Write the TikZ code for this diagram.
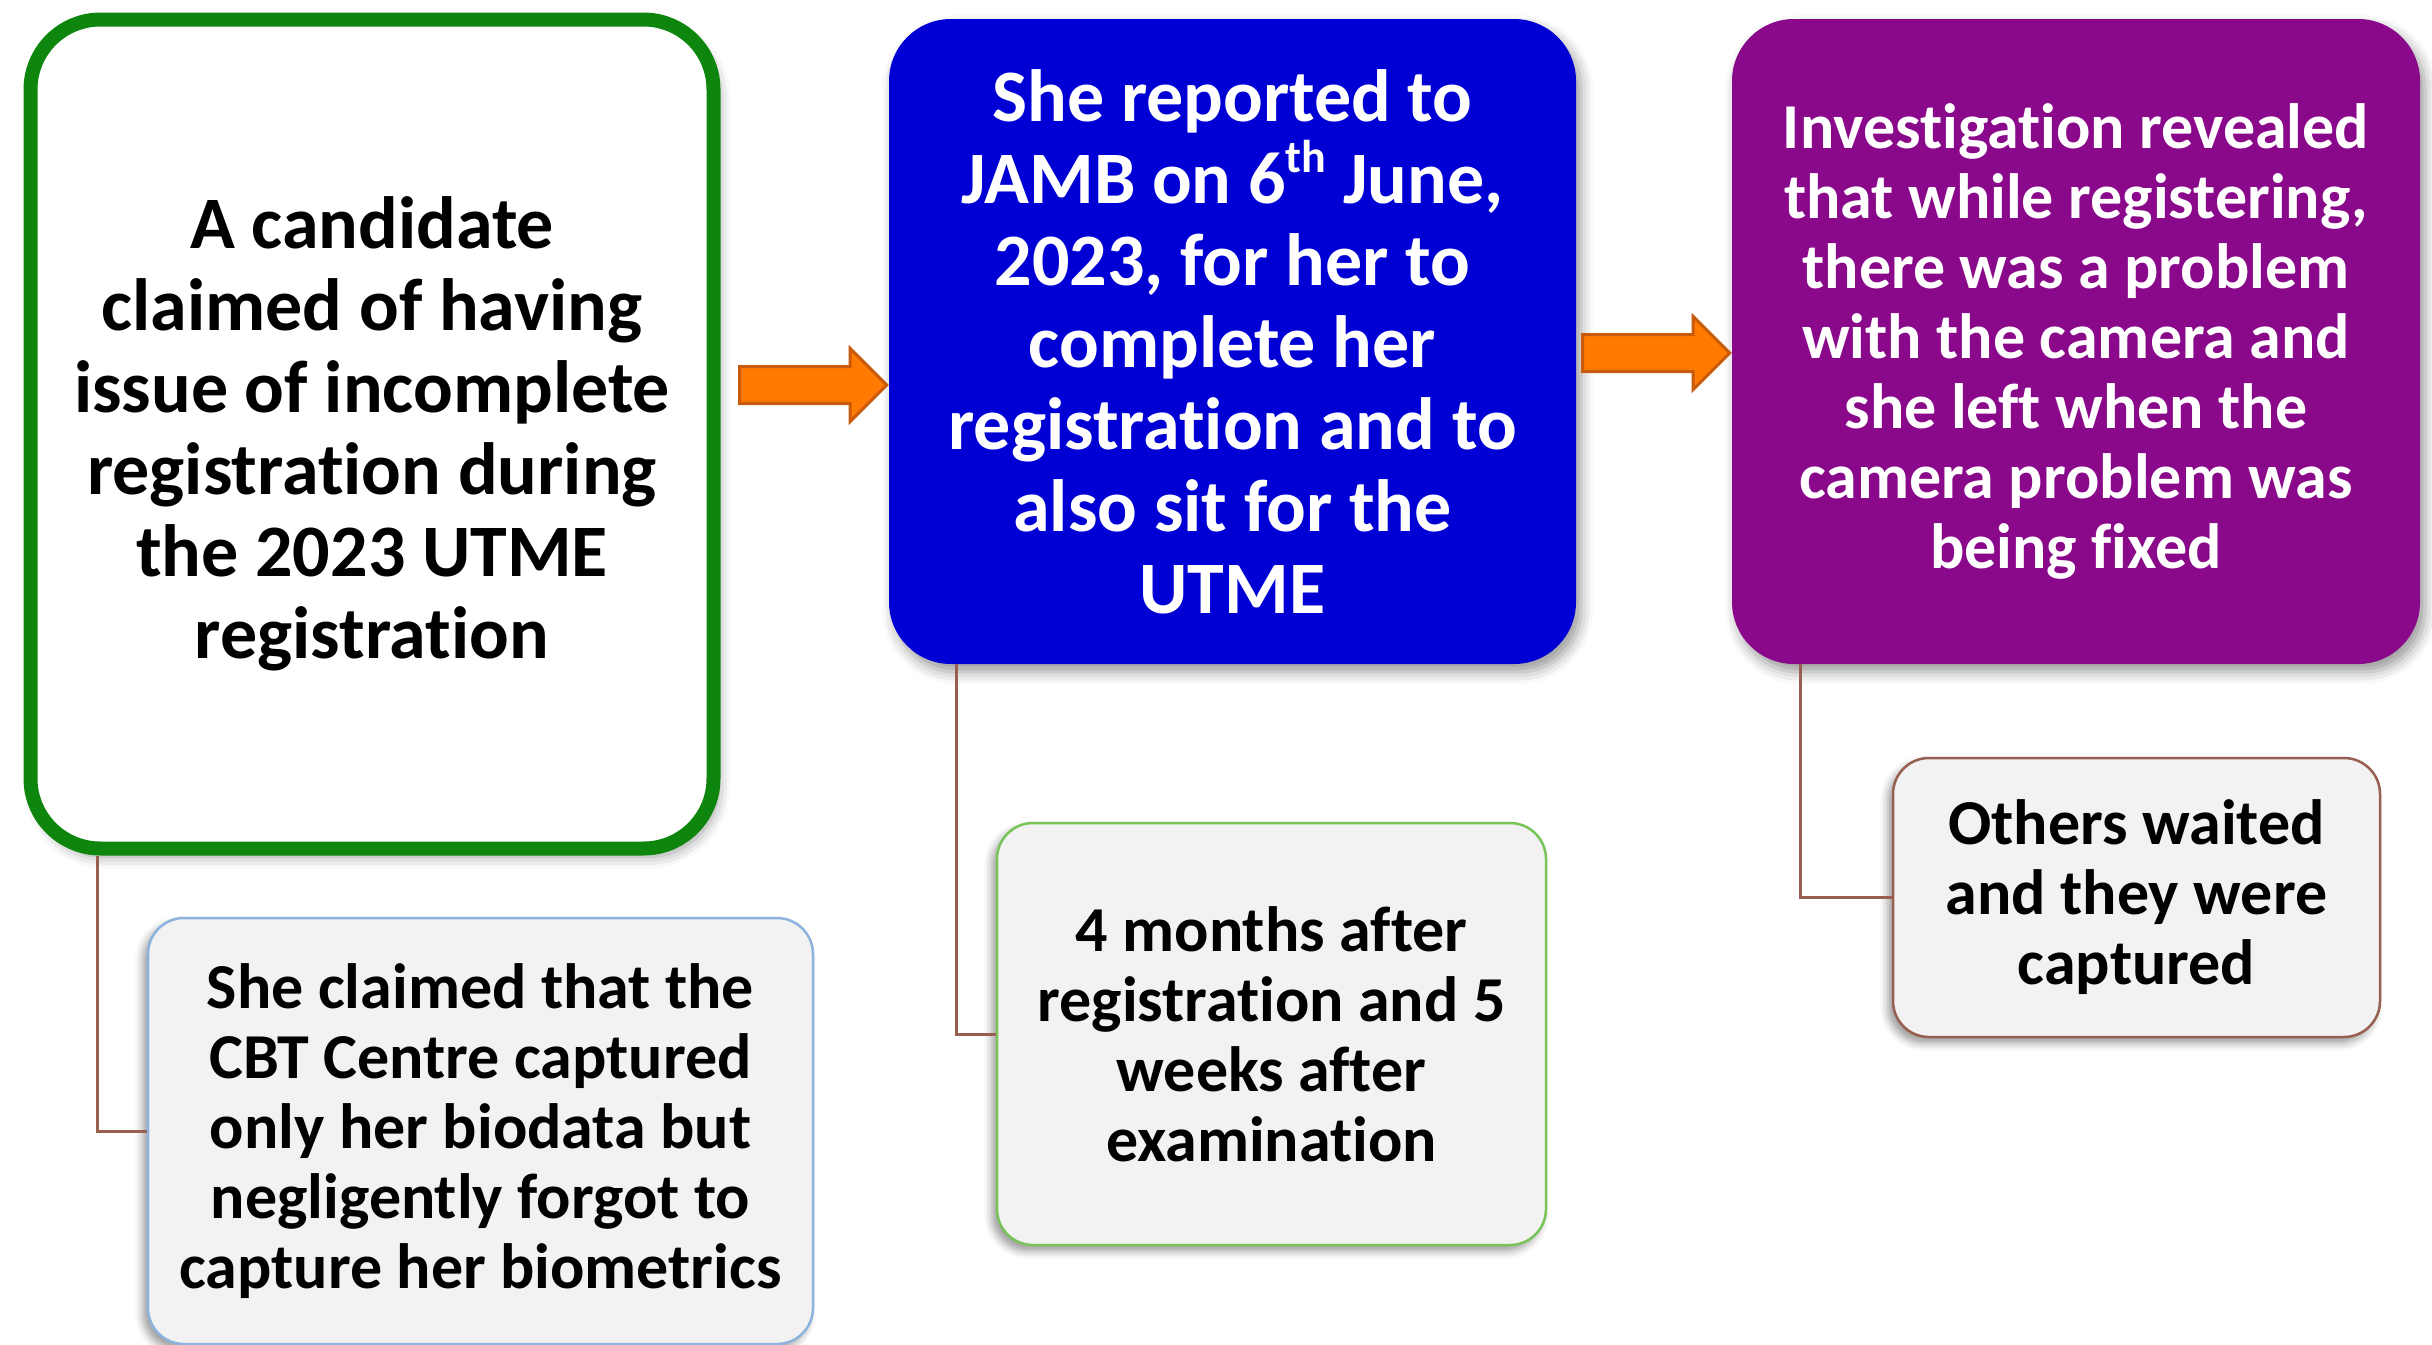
\documentclass[tikz,border=0pt]{standalone}
\usepackage{fontspec}
\setmainfont{Carlito}[Ligatures=NoCommon]
\usetikzlibrary{positioning,shapes.arrows,shadows.blur,calc}
\definecolor{jgreen}{RGB}{14,134,14}
\definecolor{jblue}{RGB}{0,0,212}
\definecolor{jpurple}{RGB}{138,8,138}
\definecolor{jorange}{RGB}{255,122,0}
\definecolor{jorangedk}{RGB}{200,90,10}
\definecolor{jbrown}{RGB}{152,94,80}
\definecolor{jnoteblue}{RGB}{140,178,222}
\definecolor{jnotegreen}{RGB}{120,196,90}
\definecolor{jnotefill}{RGB}{242,242,242}
\newcommand{\supth}{\raisebox{0.42em}{\fontsize{46}{46}\selectfont th}}

\begin{document}
\begin{tikzpicture}[x=1pt,y=-1pt,
  main/.style={rounded corners=62pt,align=center,inner sep=0pt,
               font=\fontsize{74}{82}\selectfont\bfseries,
               blur shadow={shadow xshift=5pt,shadow yshift=-8pt,shadow blur radius=12pt}},
  note/.style={rounded corners=36pt,fill=jnotefill,line width=2.5pt,align=center,inner sep=0pt,
               font=\fontsize{64}{70}\selectfont\bfseries,
               blur shadow={shadow xshift=-5pt,shadow yshift=-6pt,shadow blur radius=8pt}},
  blockarr/.style={single arrow,draw=jorangedk,fill=jorange,line width=3pt,inner xsep=0pt,
                   inner ysep=17pt,minimum width=70pt,minimum height=147pt,
                   single arrow head extend=18pt},
  conn/.style={draw=jbrown,line width=3pt}
]
\useasboundingbox (0,0) rectangle (2432,1344);

% main row
\node[main,draw=jgreen,line width=14pt,fill=white,rounded corners=70pt,
      minimum width=683pt,minimum height=829pt] (claim) at (372,434)
  {A candidate\\claimed of having\\issue of incomplete\\registration during\\the 2023 UTME\\registration};
\node[main,fill=jblue,text=white,minimum width=687pt,minimum height=645pt] (jamb) at (1232.5,341.5)
  {She reported to\\JAMB on 6\supth{} June,\\2023, for her to\\complete her\\registration and to\\also sit for the\\UTME};
\node[main,fill=jpurple,text=white,font=\fontsize{64}{70}\selectfont\bfseries,
      minimum width=688pt,minimum height=645pt] (invest) at (2076,341.5)
  {Investigation revealed\\that while registering,\\there was a problem\\with the camera and\\she left when the\\camera problem was\\being fixed};

% notes
\node[note,draw=jnoteblue,minimum width=665pt,minimum height=426pt] (bio) at (480.5,1131)
  {She claimed that the\\CBT Centre captured\\only her biodata but\\negligently forgot to\\capture her biometrics};
\node[note,draw=jnotegreen,minimum width=549pt,minimum height=422pt] (months) at (1271.5,1034)
  {4 months after\\registration and 5\\weeks after\\examination};
\node[note,draw=jbrown,minimum width=487pt,minimum height=279pt] (others) at (2136.5,897.5)
  {Others waited\\and they were\\captured};

% arrows
\coordinate (ya) at (0,385);
\coordinate (yb) at (0,353);
\node[blockarr,anchor=tip] (arrA) at (jamb.west |- ya) {};
\node[blockarr,anchor=tip] (arrB) at (invest.west |- yb) {};

% connectors
\draw[conn] ([xshift=74pt]claim.south west) |- (bio.west);
\draw[conn] ([xshift=68pt]jamb.south west) |- (months.west);
\draw[conn] ([xshift=69pt]invest.south west) |- (others.west);
\end{tikzpicture}
\end{document}
